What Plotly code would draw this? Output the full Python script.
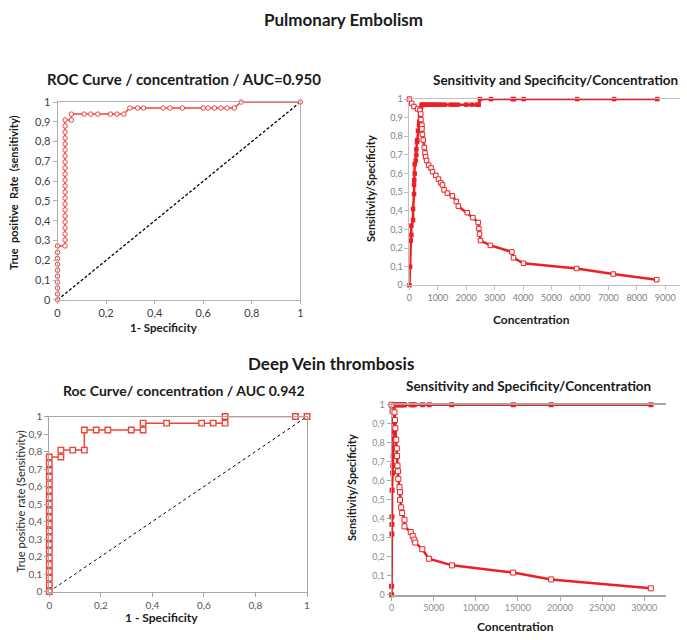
import plotly.graph_objects as go

# ---------------- data ----------------
# Pulmonary embolism ROC (1-specificity, sensitivity)
pe_roc_fpr = [0, 0, 0, 0, 0, 0, 0, 0, 0, 0,
              0.031, 0.031, 0.031, 0.031, 0.031, 0.031, 0.031, 0.031, 0.031, 0.031, 0.031,
              0.031, 0.031, 0.031, 0.031, 0.031, 0.031, 0.031, 0.031, 0.031, 0.031, 0.031,
              0.057, 0.057, 0.11, 0.137, 0.166, 0.218, 0.245, 0.273, 0.298, 0.33, 0.354,
              0.435, 0.463, 0.514, 0.6, 0.62, 0.646, 0.673, 0.698, 0.728, 0.756, 1.0]
pe_roc_tpr = [0, 0.03, 0.06, 0.09, 0.12, 0.15, 0.18, 0.21, 0.24, 0.273,
              0.273, 0.303, 0.333, 0.364, 0.394, 0.424, 0.455, 0.485, 0.515, 0.545, 0.576,
              0.606, 0.636, 0.667, 0.697, 0.727, 0.758, 0.788, 0.818, 0.848, 0.879, 0.909,
              0.909, 0.939, 0.939, 0.939, 0.939, 0.939, 0.939, 0.939, 0.97, 0.97, 0.97,
              0.97, 0.97, 0.97, 0.97, 0.97, 0.97, 0.97, 0.97, 0.97, 1.0, 1.0]

# Pulmonary embolism sensitivity / specificity vs concentration
pe_spec_conc = [0, 25, 46, 70, 70, 128, 128, 163, 163, 170, 186, 186, 220, 244, 244, 267,
                275, 302, 337, 345, 372, 395, 410, 430, 480, 540, 600, 660, 720, 800, 880,
                960, 1050, 1150, 1250, 1450, 1560, 1700, 2000, 2200, 2380, 2440, 2480,
                2870, 3630, 3680, 4020, 5900, 7200, 8720]
pe_spec_val = [0, 0.1, 0.24, 0.27, 0.32, 0.35, 0.41, 0.49, 0.54, 0.565, 0.6, 0.65, 0.67,
               0.7, 0.73, 0.77, 0.78, 0.83, 0.86, 0.88, 0.91, 0.94, 0.955, 0.97, 0.97,
               0.97, 0.97, 0.97, 0.97, 0.97, 0.97, 0.97, 0.97, 0.97, 0.97, 0.97, 0.97,
               0.97, 0.97, 0.97, 0.97, 0.97, 1.0, 1.0, 1.0, 1.0, 1.0, 1.0, 1.0, 1.0]
pe_sens_conc = [0, 80, 160, 290, 370, 400, 405, 440, 440, 460, 488, 523, 547, 570, 605,
                674, 760, 814, 930, 1023, 1105, 1163, 1221, 1337, 1512, 1651, 1721, 2035,
                2233, 2419, 2442, 2465, 2500, 2849, 3605, 3663, 4012, 5880, 7170, 8700]
pe_sens_val = [1.0, 0.977, 0.96, 0.947, 0.94, 0.92, 0.89, 0.86, 0.84, 0.81, 0.78, 0.74,
               0.71, 0.69, 0.67, 0.645, 0.63, 0.61, 0.59, 0.57, 0.55, 0.539, 0.512, 0.495,
               0.48, 0.45, 0.425, 0.39, 0.363, 0.337, 0.305, 0.275, 0.24, 0.214, 0.179,
               0.147, 0.118, 0.09, 0.06, 0.03]

# Deep vein thrombosis ROC
dvt_roc_fpr = [0, 0, 0, 0, 0, 0, 0, 0, 0, 0, 0, 0, 0, 0, 0, 0, 0, 0, 0, 0, 0,
               0.045, 0.045, 0.091, 0.136, 0.136, 0.182, 0.227, 0.318, 0.364, 0.364,
               0.455, 0.591, 0.636, 0.682, 0.682, 0.955, 1.0]
dvt_roc_tpr = [0, 0.038, 0.077, 0.115, 0.154, 0.192, 0.231, 0.269, 0.308, 0.346, 0.385,
               0.423, 0.462, 0.5, 0.538, 0.577, 0.615, 0.654, 0.692, 0.731, 0.769,
               0.769, 0.808, 0.808, 0.808, 0.923, 0.923, 0.923, 0.923, 0.923, 0.962,
               0.962, 0.962, 0.962, 0.962, 1.0, 1.0, 1.0]

# Deep vein thrombosis sensitivity / specificity vs concentration
dvt_spec_conc = [0, 0, 40, 40, 40, 60, 120, 150, 180, 220, 260, 300, 330, 350, 500, 650,
                 800, 950, 1100, 1250, 1400, 1530, 2310, 2500, 2700, 3690, 4470, 7140,
                 14450, 18950, 30800]
dvt_spec_val = [0, 0.045, 0.32, 0.37, 0.41, 0.55, 0.64, 0.68, 0.73, 0.77, 0.82, 0.86,
                0.91, 1.0, 1.0, 1.0, 1.0, 1.0, 1.0, 1.0, 1.0, 1.0, 1.0, 1.0, 1.0, 1.0,
                1.0, 1.0, 1.0, 1.0, 1.0]
dvt_sens_conc = [0, 118, 350, 400, 450, 550, 620, 650, 700, 760, 800, 940, 1000, 1000,
                 1140, 1260, 1530, 1530, 2275, 2510, 2700, 2820, 3650, 4430, 7180, 14430,
                 18940, 30780]
dvt_sens_val = [1.0, 0.966, 0.96, 0.92, 0.876, 0.816, 0.77, 0.73, 0.68, 0.65, 0.61,
                0.567, 0.54, 0.5, 0.46, 0.43, 0.395, 0.36, 0.33, 0.31, 0.29, 0.275, 0.24,
                0.19, 0.155, 0.117, 0.081, 0.034]

diag = [0, 1]

y_tickvals = [0, 0.1, 0.2, 0.3, 0.4, 0.5, 0.6, 0.7, 0.8, 0.9, 1]
y_ticktext = ["0", "0,1", "0,2", "0,3", "0,4", "0,5", "0,6", "0,7", "0,8", "0,9", "1"]
roc_x_tickvals = [0, 0.2, 0.4, 0.6, 0.8, 1]
roc_x_ticktext = ["0", "0,2", "0,4", "0,6", "0,8", "1"]
pe_conc_ticks = [0, 1000, 2000, 3000, 4000, 5000, 6000, 7000, 8000, 9000]
dvt_conc_ticks = [0, 5000, 10000, 15000, 20000, 25000, 30000]

# ---------------- figure ----------------
W, H = 687, 640
FONT = "Lato"
RED = "#ec2024"
ROCRED = "#ef4438"


def dx(a, b):
    return [a / W, b / W]


def dy(top, bottom):
    return [1 - bottom / H, 1 - top / H]


fig = go.Figure()

# PE ROC
fig.add_trace(go.Scatter(x=diag, y=diag, mode="lines", xaxis="x", yaxis="y",
                         line=dict(color="black", width=1.3, dash="3px,2px"), cliponaxis=False))
fig.add_trace(go.Scatter(x=pe_roc_fpr, y=pe_roc_tpr, mode="lines+markers", xaxis="x", yaxis="y",
                         line=dict(color=ROCRED, width=1.5),
                         marker=dict(symbol="circle", size=4.5, color="white",
                                     line=dict(color=ROCRED, width=1)),
                         cliponaxis=False))
# PE sens/spec
fig.add_trace(go.Scatter(x=pe_spec_conc, y=pe_spec_val, mode="lines+markers", xaxis="x2", yaxis="y2",
                         line=dict(color=RED, width=2.5),
                         marker=dict(symbol="square", size=4.5, color=RED), cliponaxis=False))
fig.add_trace(go.Scatter(x=pe_sens_conc, y=pe_sens_val, mode="lines+markers", xaxis="x2", yaxis="y2",
                         line=dict(color=RED, width=2.5),
                         marker=dict(symbol="square", size=4.5, color="white",
                                     line=dict(color=RED, width=1)), cliponaxis=False))
# DVT ROC
fig.add_trace(go.Scatter(x=diag, y=diag, mode="lines", xaxis="x3", yaxis="y3",
                         line=dict(color="black", width=1, dash="dot"), cliponaxis=False))
fig.add_trace(go.Scatter(x=dvt_roc_fpr, y=dvt_roc_tpr, mode="lines+markers", xaxis="x3", yaxis="y3",
                         line=dict(color=ROCRED, width=1.5),
                         marker=dict(symbol="square", size=5.5, color="white",
                                     line=dict(color=ROCRED, width=1.4)),
                         cliponaxis=False))
# DVT sens/spec
fig.add_trace(go.Scatter(x=dvt_spec_conc, y=dvt_spec_val, mode="lines+markers", xaxis="x4", yaxis="y4",
                         line=dict(color=RED, width=2.5),
                         marker=dict(symbol="square", size=5, color=RED), cliponaxis=False))
fig.add_trace(go.Scatter(x=dvt_sens_conc, y=dvt_sens_val, mode="lines+markers", xaxis="x4", yaxis="y4",
                         line=dict(color=RED, width=2.5),
                         marker=dict(symbol="square", size=5, color="white",
                                     line=dict(color=RED, width=1)), cliponaxis=False))

axis_common = dict(showgrid=False, zeroline=False, showline=True, ticks="outside",
                   ticklen=4, fixedrange=True)

fig.update_layout(
    width=W, height=H, margin=dict(l=0, r=0, t=0, b=0),
    paper_bgcolor="white", plot_bgcolor="white", showlegend=False,
    font=dict(family=FONT),
    # PE ROC
    xaxis=dict(axis_common, domain=dx(55, 300), range=[0, 1], anchor="y",
               tickvals=roc_x_tickvals, ticktext=roc_x_ticktext, mirror=True, ticklen=3,
               linecolor="#b0b0b0", tickcolor="#b0b0b0",
               tickfont=dict(size=11, color="#404040", family=FONT)),
    yaxis=dict(axis_common, domain=dy(97, 299), range=[0, 1], anchor="x",
               tickvals=y_tickvals, ticktext=y_ticktext, mirror=True,
               linecolor="#b0b0b0", tickcolor="#b0b0b0",
               tickfont=dict(size=11, color="#404040", family=FONT)),
    # PE sens/spec
    xaxis2=dict(axis_common, domain=dx(410, 683), range=[0, 9520], anchor="y2",
                tickvals=pe_conc_ticks, tickformat="d", mirror=True,
                linecolor="#c0c0c0", tickcolor="#c0c0c0",
                tickfont=dict(size=9, color="#7f7f7f", family=FONT)),
    yaxis2=dict(axis_common, domain=dy(94, 284), range=[0, 1], anchor="x2",
                tickvals=y_tickvals, ticktext=y_ticktext,
                linecolor="#c0c0c0", tickcolor="#c0c0c0",
                tickfont=dict(size=9, color="#7f7f7f", family=FONT)),
    # DVT ROC
    xaxis3=dict(axis_common, domain=dx(46.7, 306.7), range=[0, 1], anchor="y3",
                tickvals=roc_x_tickvals, ticktext=roc_x_ticktext, mirror=True,
                linecolor="#a6a6a6", tickcolor="#a6a6a6",
                tickfont=dict(size=10, color="#595959", family=FONT)),
    yaxis3=dict(axis_common, domain=dy(418, 596.7), range=[0, 1], anchor="x3",
                tickvals=y_tickvals, ticktext=y_ticktext, mirror=True,
                linecolor="#a6a6a6", tickcolor="#a6a6a6",
                tickfont=dict(size=10, color="#595959", family=FONT)),
    # DVT sens/spec
    xaxis4=dict(axis_common, domain=dx(392, 669), range=[0, 32600], anchor="y4",
                tickvals=dvt_conc_ticks, tickformat="d", mirror=True,
                linecolor="#a6a6a6", tickcolor="#a6a6a6", linewidth=1.5,
                tickfont=dict(size=9, color="#8c8c8c", family=FONT)),
    yaxis4=dict(axis_common, domain=dy(406, 600), range=[0, 1], anchor="x4",
                tickvals=y_tickvals, ticktext=y_ticktext,
                linecolor="#a6a6a6", tickcolor="#a6a6a6",
                tickfont=dict(size=9, color="#8c8c8c", family=FONT)),
)


def ann(text, x, y, size, angle=0, bold=True, color="#1a1a1a"):
    t = f"<b>{text}</b>" if bold else text
    fig.add_annotation(text=t, x=x / W, y=1 - y / H, xref="paper", yref="paper",
                       showarrow=False, textangle=angle, xanchor="center", yanchor="middle",
                       font=dict(family=FONT, size=size, color=color))


ann("Pulmonary Embolism", 344, 13, 17)
ann("Deep Vein thrombosis", 331, 364, 17)
ann("ROC Curve / concentration / AUC=0.950", 183, 74, 15)
ann("Sensitivity and Specificity/Concentration", 557, 75, 13.5)
ann("Roc Curve/ concentration / AUC 0.942", 183, 391, 14)
ann("Sensitivity and Specificity/Concentration", 530, 387, 13.5)
ann("1- Specificity", 162, 327, 11.5)
ann("Concentration", 533, 319, 12)
ann("1 - Specificity", 160, 623, 12)
ann("Concentration", 517, 632, 12)
ann("True  positive  Rate  (sensitivity)", 10, 189, 11, angle=-90)
ann("Sensitivity/Specificity", 370, 185, 11, angle=-90)
ann("True positive rate (Sensitivity)", 18, 505, 11, angle=-90, bold=False, color="#262626")
ann("Sensitivity/Specificity", 351, 490, 11, angle=-90)

fig.write_html("out.html", config={"displayModeBar": False},
               post_script="document.body.style.margin='0px';")
